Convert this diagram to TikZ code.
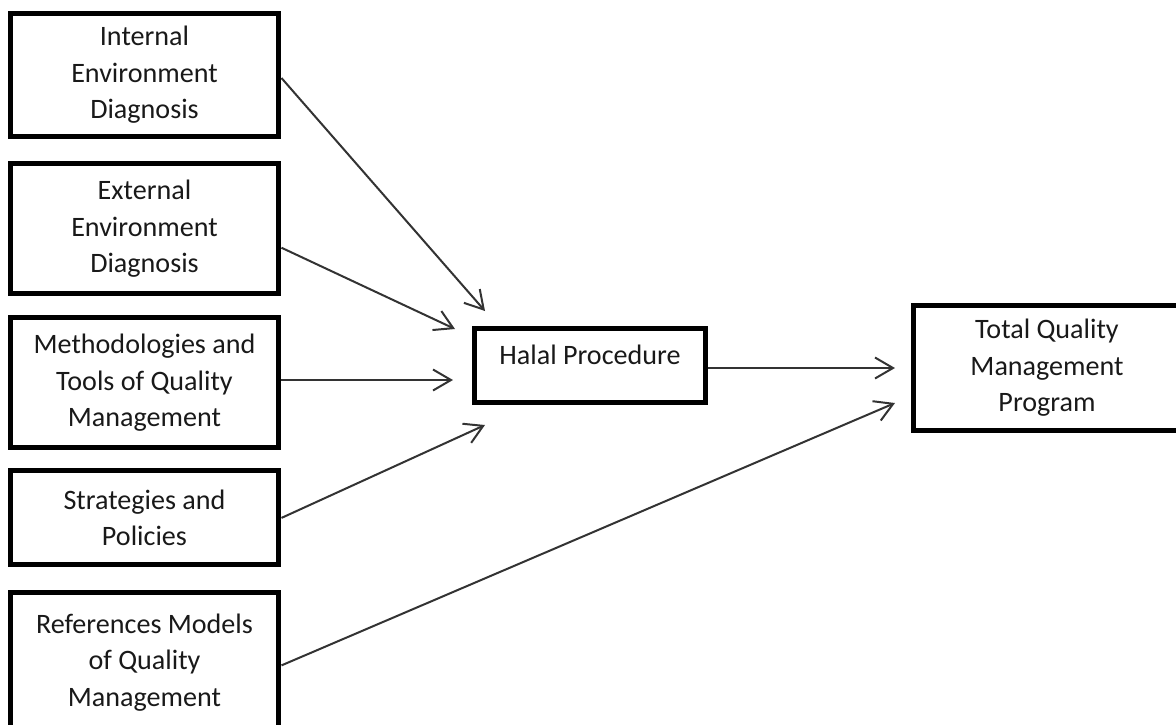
\documentclass[tikz,border=0pt]{standalone}
\usepackage{fontspec}
\setmainfont{Carlito}
\usepackage{tikz}
\usetikzlibrary{arrows.meta}
\usetikzlibrary{calc,positioning}

\begin{document}
\begin{tikzpicture}[x=0.02cm, y=-0.02cm,
        factor/.style={rectangle, draw=black, line width=0.1cm, text=black!90,
        align=center, minimum width=5.38cm, font=\fontsize{16}{20.8}\selectfont},
        result/.style={factor, minimum width=5.34cm},
        link/.style={draw=black!80, line width=0.04cm, -{Straight Barb[length=0.36cm, width=0.42cm]}},]
        \useasboundingbox (0,0) rectangle (1176,724);

        \node (internal) [factor, minimum height=2.46cm] at (144.5,75)
        {Internal\\Environment\\Diagnosis};
        \node (external) [factor, minimum height=2.61cm, below=0.44cm of internal]
        {External\\Environment\\Diagnosis};
        \node (methods) [factor, minimum height=2.6cm, below=0.38cm of external]
        {Methodologies and\\Tools of Quality\\Management};
        \node (strategies) [factor, minimum height=1.88cm, below=0.36cm of methods]
        {Strategies and\\Policies};
        \node (references) [factor, minimum height=2.78cm, below=0.46cm of strategies]
        {References Models\\of Quality\\Management};

        \node (halal) [factor, minimum width=4.64cm, minimum height=1.48cm,
        text height=0.4cm, text depth=0.46cm] at (590,365.5) {Halal Procedure};

        \node (tqm) [result, minimum height=2.5cm] at (1047,368)
        {Total Quality\\Management\\Program};

        % free ends of the connectors
        \coordinate (toInternal) at (485,311);
        \coordinate (toExternal) at (455,329);
        \coordinate (toMethods) at (453,380);
        \coordinate (toStrategies) at (485,425);
        \coordinate (toReferences) at (895,403);
        \coordinate (toTqm) at (895,368);

        \draw [link] ([yshift=-0.06cm]internal.east) -- (toInternal);
        \draw [link] ([yshift=-0.38cm]external.east) -- (toExternal);
        \draw [link] (methods.east |- toMethods) -- (toMethods);
        \draw [link] (strategies.east) -- (toStrategies);
        \draw [link] ([yshift=-0.06cm]references.east) -- (toReferences);
        \draw [link] (halal.east |- toTqm) -- (toTqm);
    \end{tikzpicture}
\end{document}
